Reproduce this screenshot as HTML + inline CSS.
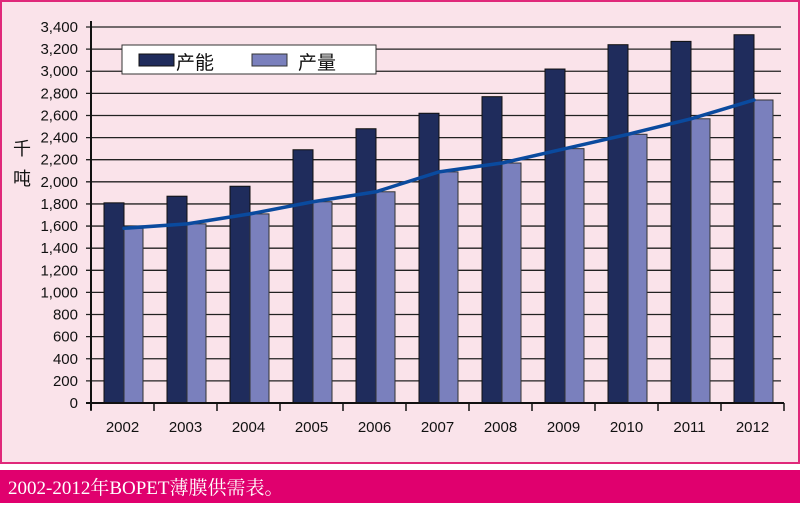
<!DOCTYPE html>
<html><head><meta charset="utf-8"><style>
html,body{margin:0;padding:0;background:#fff;}
svg{display:block;}
text{font-family:"Liberation Sans","Noto Sans CJK SC",sans-serif;}
</style></head><body>
<svg width="800" height="506" viewBox="0 0 800 506" xmlns="http://www.w3.org/2000/svg">
<rect x="0" y="0" width="800" height="506" fill="#fff"/>
<rect x="1" y="1" width="798" height="462" fill="#fae3ea" stroke="#e0287a" stroke-width="2"/>
<rect x="0" y="470" width="800" height="33" fill="#e0006e"/>
<text x="8" y="494" font-size="19" fill="#fff" style="font-family:'Liberation Serif','Noto Serif CJK SC',serif">2002-2012年BOPET薄膜供需表。</text>
<g id="grid" stroke="#222" stroke-width="1.3"></g>
<g id="bars"></g>
<line x1="91" y1="21" x2="91" y2="410" stroke="#111" stroke-width="2"/>
<line x1="86" y1="403" x2="784" y2="403" stroke="#111" stroke-width="2"/>
<g id="ticks" stroke="#111" stroke-width="1.5"></g>
<g id="ylab" font-size="15" fill="#111" text-anchor="end"></g>
<g id="xlab" font-size="15" fill="#111" text-anchor="middle"></g>
<polyline id="trend" fill="none" stroke="#0a4a9e" stroke-width="3.5" stroke-linejoin="round" stroke-linecap="round"/>
<text x="22" y="155" font-size="18" fill="#111" text-anchor="middle">千</text>
<text x="22" y="185" font-size="18" fill="#111" text-anchor="middle">吨</text>
<rect x="122" y="45" width="254" height="29" fill="#fff" stroke="#333" stroke-width="1"/>
<rect x="139" y="54" width="35" height="12" fill="#1f2c5c" stroke="#111"/>
<text x="176" y="69" font-size="19" fill="#111">产能</text>
<rect x="252" y="54" width="35" height="12" fill="#7a80bd" stroke="#333"/>
<text x="298" y="69" font-size="19" fill="#111">产量</text>
<script>
var ns="http://www.w3.org/2000/svg";
function el(p,t,a,txt){var e=document.createElementNS(ns,t);for(var k in a)e.setAttribute(k,a[k]);if(txt!=null)e.textContent=txt;document.getElementById(p).appendChild(e);}
function Y(v){return 403-v*376/3400;}
for(var i=1;i<=17;i++){var y=Y(i*200);el('grid','line',{x1:86,y1:y,x2:781,y2:y});}
for(var i=0;i<=17;i++){var v=i*200;el('ylab','text',{x:78,y:Y(v)+5},v.toLocaleString('en-US'));}
var cap=[1810,1870,1960,2290,2480,2620,2770,3020,3240,3270,3330];
var pro=[1580,1620,1710,1820,1910,2090,2170,2300,2430,2570,2740];
var pts=[];
for(var k=0;k<11;k++){
 el('bars','rect',{x:104+63*k,y:Y(cap[k]),width:20,height:403-Y(cap[k]),fill:'#1f2c5c',stroke:'#111','stroke-width':1});
 el('bars','rect',{x:124+63*k,y:Y(pro[k]),width:19,height:403-Y(pro[k]),fill:'#7a80bd',stroke:'#333','stroke-width':1});
 el('xlab','text',{x:122.5+63*k,y:432},String(2002+k));
 pts.push((124+63*k)+','+Y(pro[k]));
}
for(var k=0;k<=11;k++){var x=91+63*k;el('ticks','line',{x1:x,y1:403,x2:x,y2:411});}
document.getElementById('trend').setAttribute('points',pts.join(' '));
</script>
</svg>
</body></html>
